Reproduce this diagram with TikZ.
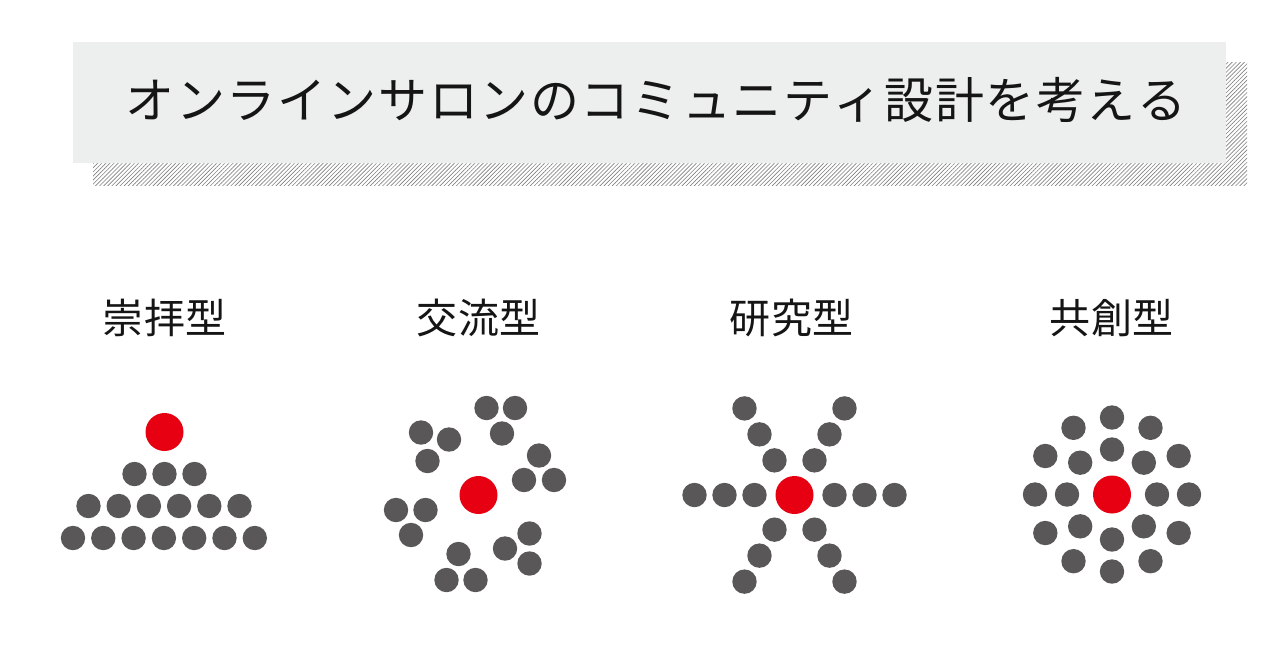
\documentclass[tikz,border=0pt]{standalone}
\usepackage{fontspec}
\newfontfamily\jp{Noto Sans CJK JP}
\usetikzlibrary{patterns.meta}
\definecolor{dotgray}{HTML}{595757}
\definecolor{dotred}{HTML}{E60012}
\definecolor{boxgray}{HTML}{EDEEEE}
\definecolor{hatchgray}{HTML}{808080}
\definecolor{ink}{HTML}{151515}
\tikzset{
  titlechar/.style={font=\jp\fontsize{24.5pt}{24.5pt}\selectfont, text=ink, inner sep=0pt, text height=0.88em, text depth=0.12em, anchor=center},
  labelchar/.style={font=\jp\fontsize{20.5pt}{20.5pt}\selectfont, text=ink, inner sep=0pt, text height=0.88em, text depth=0.12em, anchor=center},
  gdot/.style={circle, fill=dotgray, inner sep=0pt, minimum size=12.2pt},
  rdot/.style={circle, fill=dotred, inner sep=0pt, minimum size=19pt},
}
\begin{document}
\begin{tikzpicture}[x=0.5pt,y=-0.5pt]
\useasboundingbox (0,0) rectangle (1280,671);
% title box with hatched shadow
\fill[pattern={Lines[angle=45,distance=1.45pt,line width=0.32pt]}, pattern color=hatchgray] (93,62) rectangle (1247,185);
\fill[boxgray] (73,42) rectangle (1226,163);
\foreach \c [count=\i from 0] in {オ,ン,ラ,イ,ン,サ,ロ,ン,の,コ,ミ,ュ,ニ,テ,ィ,設,計,を,考,え,る}
  \node[titlechar] (t\i) at ({150+\i*50.6},111) {\c};
% labels
\foreach \c [count=\i from 0] in {崇,拝,型}
  \node[labelchar] (la\i) at ({123+\i*41.5},326) {\c};
\foreach \c [count=\i from 0] in {交,流,型}
  \node[labelchar] (lb\i) at ({437+\i*41.5},326) {\c};
\foreach \c [count=\i from 0] in {研,究,型}
  \node[labelchar] (lc\i) at ({750+\i*41.5},326) {\c};
\foreach \c [count=\i from 0] in {共,創,型}
  \node[labelchar] (ld\i) at ({1070+\i*41.5},326) {\c};
% cluster 1
\node[rdot] (ra) at (164.5,432) {};
\foreach \k in {0,1,2} \node[gdot] (a1\k) at ({134.5+\k*30},474) {};
\foreach \k in {0,...,5} \node[gdot] (a2\k) at ({88.5+\k*30.2},506) {};
\foreach \k in {0,...,6} \node[gdot] (a3\k) at ({73+\k*30.3},538) {};
% cluster 2
\node[rdot] (rb) at (478.5,495) {};
\foreach \px/\py [count=\i] in {486.5/408, 515/408, 502/433.5,
   421/432.5, 449/439.5, 427.5/461,
   539/455.5, 524/480, 554/480,
   396/510, 425.5/510, 411/535,
   529.5/533.5, 505/548.5, 529.5/563.5,
   458.5/554, 446.5/580, 475.5/580}
  \node[gdot] (b\i) at (\px,\py) {};
% cluster 3
\node[rdot] (rc) at (794.5,495) {};
\foreach \a in {0,60,120,180,240,300}
  \foreach \r in {40,70,100}
    \node[gdot] (c\a-\r) at ({794.5+\r*cos(\a)},{495+\r*sin(\a)}) {};
% cluster 4
\node[rdot] (rd) at (1112,494.5) {};
\foreach \a in {0,45,...,315}
  \node[gdot] (di\a) at ({1112+45*cos(\a)},{494.5+45*sin(\a)}) {};
\foreach \a in {0,30,...,330}
  \node[gdot] (do\a) at ({1112+77*cos(\a)},{494.5+77*sin(\a)}) {};
\end{tikzpicture}
\end{document}
